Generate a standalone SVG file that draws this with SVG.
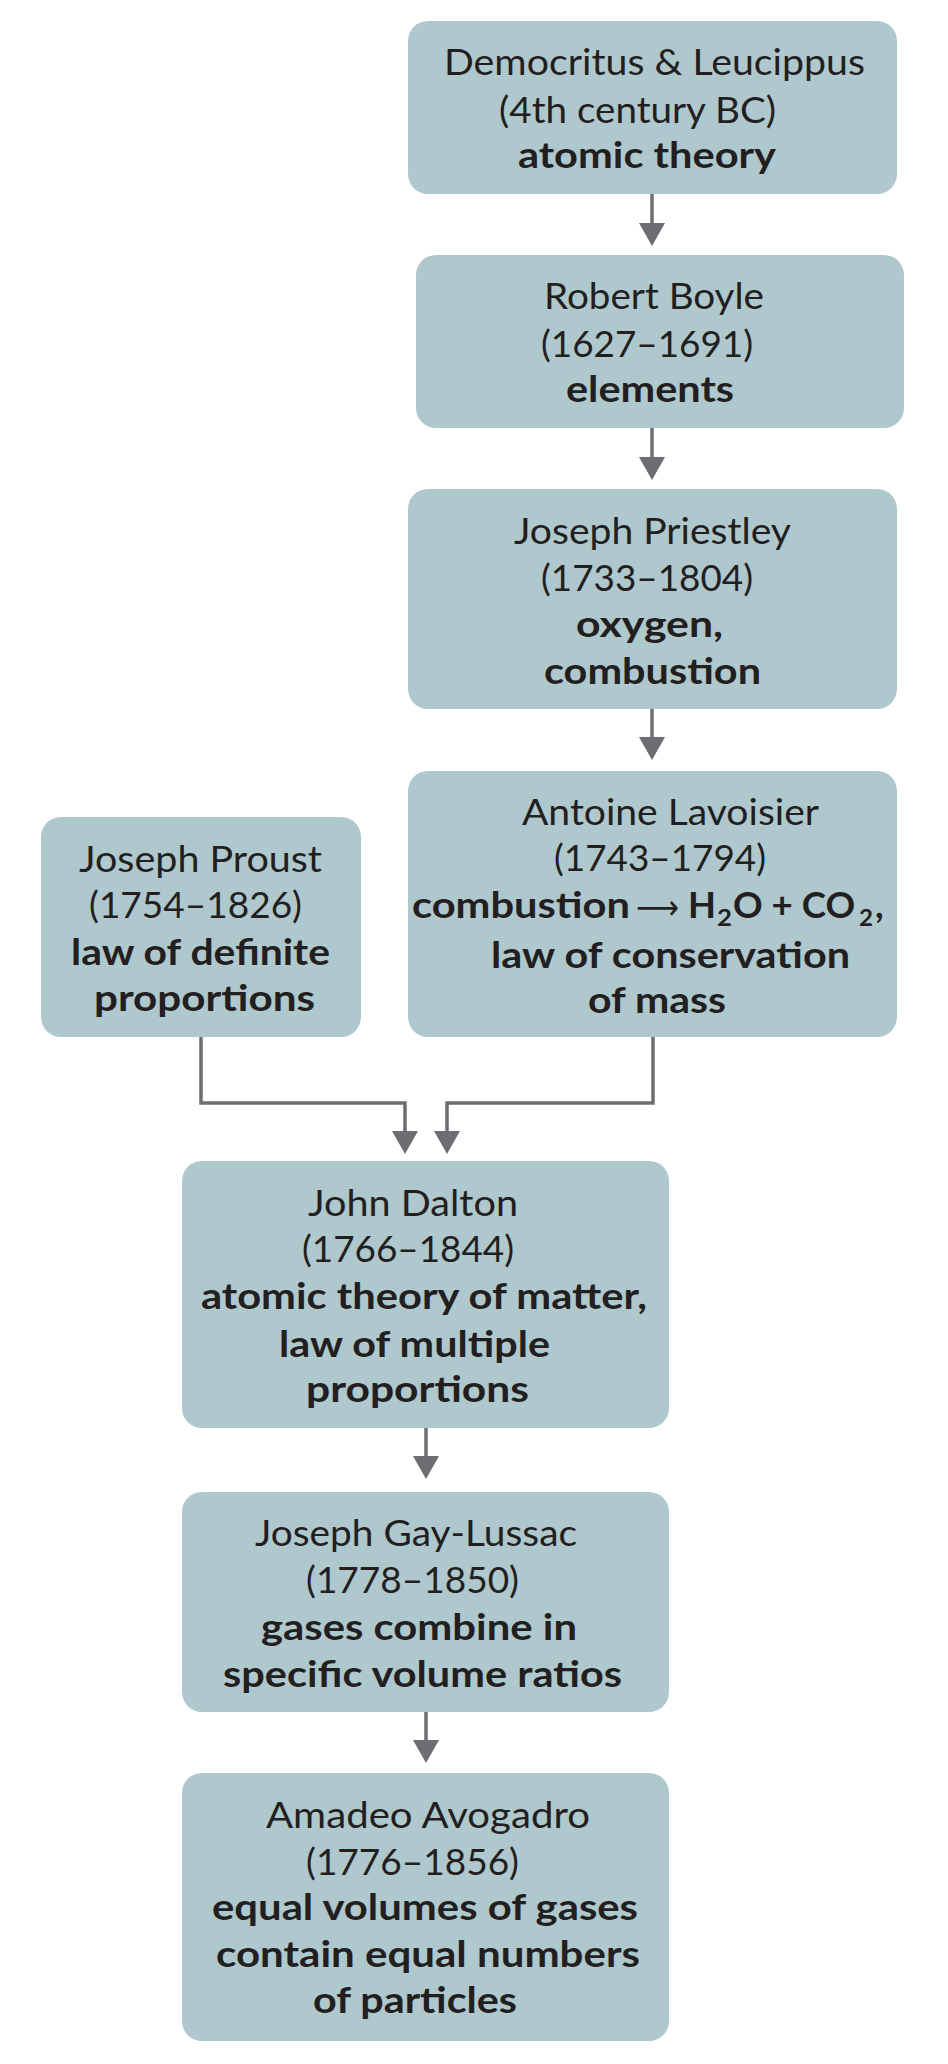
<svg xmlns="http://www.w3.org/2000/svg" width="948" height="2064" viewBox="0 0 948 2064">
<style>
.box{fill:#aec8cd}
text{font-family:"Lato","Open Sans","Liberation Sans",sans-serif;font-size:37px;fill:#231f20}
.r{font-weight:400}
.b{font-weight:700}
.sub{font-size:23px;font-weight:700}
.arr{font-family:"DejaVu Sans",sans-serif;font-weight:400;font-size:34px}
.conn{fill:none;stroke:#6d6e71;stroke-width:3.5;stroke-linejoin:miter;marker-end:url(#ah)}
</style>
<defs>
<marker id="ah" markerUnits="userSpaceOnUse" viewBox="0 0 23 26" markerWidth="23" markerHeight="26" refX="0" refY="13" orient="auto">
<path d="M0,0 L23,13 L0,26 z" fill="#6d6e71"/>
</marker>
</defs>
<rect width="948" height="2064" fill="#ffffff"/>

<g id="connectors">
<path class="conn" d="M652,194 V223"/>
<path class="conn" d="M652,428 V457"/>
<path class="conn" d="M652,709 V737"/>
<path class="conn" d="M201,1037 V1103 H405 V1131"/>
<path class="conn" d="M653,1037 V1103 H447 V1131"/>
<path class="conn" d="M426,1428 V1456"/>
<path class="conn" d="M426,1712 V1740"/>
</g>

<g id="democritus">
<rect class="box" x="408" y="21" width="489" height="173" rx="20"/>
<text class="r" x="444" y="75" textLength="421" lengthAdjust="spacingAndGlyphs">Democritus &amp; Leucippus</text>
<text class="r" x="499" y="123" textLength="277" lengthAdjust="spacingAndGlyphs">(4th century BC)</text>
<text class="b" x="518" y="168" textLength="258" lengthAdjust="spacingAndGlyphs">atomic theory</text>
</g>

<g id="boyle">
<rect class="box" x="416" y="255" width="488" height="173" rx="20"/>
<text class="r" x="544" y="309" textLength="220" lengthAdjust="spacingAndGlyphs">Robert Boyle</text>
<text class="r" x="541" y="357" textLength="212" lengthAdjust="spacingAndGlyphs">(1627–1691)</text>
<text class="b" x="566" y="402" textLength="168" lengthAdjust="spacingAndGlyphs">elements</text>
</g>

<g id="priestley">
<rect class="box" x="408" y="489" width="489" height="220" rx="20"/>
<text class="r" x="514" y="544" textLength="277" lengthAdjust="spacingAndGlyphs">Joseph Priestley</text>
<text class="r" x="541" y="591" textLength="212" lengthAdjust="spacingAndGlyphs">(1733–1804)</text>
<text class="b" x="576" y="637" textLength="147" lengthAdjust="spacingAndGlyphs">oxygen,</text>
<text class="b" x="544" y="684" textLength="217" lengthAdjust="spacingAndGlyphs">combustion</text>
</g>

<g id="lavoisier">
<rect class="box" x="408" y="771" width="489" height="266" rx="20"/>
<text class="r" x="522" y="825" textLength="297" lengthAdjust="spacingAndGlyphs">Antoine Lavoisier</text>
<text class="r" x="554" y="871" textLength="212" lengthAdjust="spacingAndGlyphs">(1743–1794)</text>
<text class="b" x="412" y="918" textLength="218" lengthAdjust="spacingAndGlyphs">combustion</text>
<text class="arr" x="636" y="919" textLength="43" lengthAdjust="spacingAndGlyphs">⟶</text>
<text class="b" x="688" y="918" textLength="28" lengthAdjust="spacingAndGlyphs">H</text>
<text class="sub" x="717" y="926" textLength="15" lengthAdjust="spacingAndGlyphs">2</text>
<text class="b" x="733" y="918" textLength="122" lengthAdjust="spacingAndGlyphs">O + CO</text>
<text class="sub" x="859" y="926" textLength="14" lengthAdjust="spacingAndGlyphs">2</text>
<text class="b" x="875" y="918">,</text>
<text class="b" x="491" y="968" textLength="359" lengthAdjust="spacingAndGlyphs">law of conservation</text>
<text class="b" x="588" y="1013" textLength="138" lengthAdjust="spacingAndGlyphs">of mass</text>
</g>

<g id="proust">
<rect class="box" x="41" y="817" width="320" height="220" rx="20"/>
<text class="r" x="79" y="872" textLength="243" lengthAdjust="spacingAndGlyphs">Joseph Proust</text>
<text class="r" x="89" y="918" textLength="213" lengthAdjust="spacingAndGlyphs">(1754–1826)</text>
<text class="b" x="71" y="965" textLength="259" lengthAdjust="spacingAndGlyphs">law of definite</text>
<text class="b" x="94" y="1011" textLength="221" lengthAdjust="spacingAndGlyphs">proportions</text>
</g>

<g id="dalton">
<rect class="box" x="182" y="1161" width="487" height="267" rx="20"/>
<text class="r" x="308" y="1216" textLength="210" lengthAdjust="spacingAndGlyphs">John Dalton</text>
<text class="r" x="302" y="1262" textLength="212" lengthAdjust="spacingAndGlyphs">(1766–1844)</text>
<text class="b" x="201" y="1309" textLength="446" lengthAdjust="spacingAndGlyphs">atomic theory of matter,</text>
<text class="b" x="279" y="1357" textLength="271" lengthAdjust="spacingAndGlyphs">law of multiple</text>
<text class="b" x="306" y="1402" textLength="223" lengthAdjust="spacingAndGlyphs">proportions</text>
</g>

<g id="gay-lussac">
<rect class="box" x="182" y="1492" width="487" height="220" rx="20"/>
<text class="r" x="255" y="1546" textLength="322" lengthAdjust="spacingAndGlyphs">Joseph Gay-Lussac</text>
<text class="r" x="306" y="1593" textLength="213" lengthAdjust="spacingAndGlyphs">(1778–1850)</text>
<text class="b" x="261" y="1640" textLength="316" lengthAdjust="spacingAndGlyphs">gases combine in</text>
<text class="b" x="223" y="1687" textLength="399" lengthAdjust="spacingAndGlyphs">specific volume ratios</text>
</g>

<g id="avogadro">
<rect class="box" x="182" y="1773" width="487" height="268" rx="20"/>
<text class="r" x="266" y="1828" textLength="324" lengthAdjust="spacingAndGlyphs">Amadeo Avogadro</text>
<text class="r" x="306" y="1875" textLength="213" lengthAdjust="spacingAndGlyphs">(1776–1856)</text>
<text class="b" x="212" y="1920" textLength="426" lengthAdjust="spacingAndGlyphs">equal volumes of gases</text>
<text class="b" x="216" y="1967" textLength="424" lengthAdjust="spacingAndGlyphs">contain equal numbers</text>
<text class="b" x="313" y="2013" textLength="204" lengthAdjust="spacingAndGlyphs">of particles</text>
</g>
</svg>
